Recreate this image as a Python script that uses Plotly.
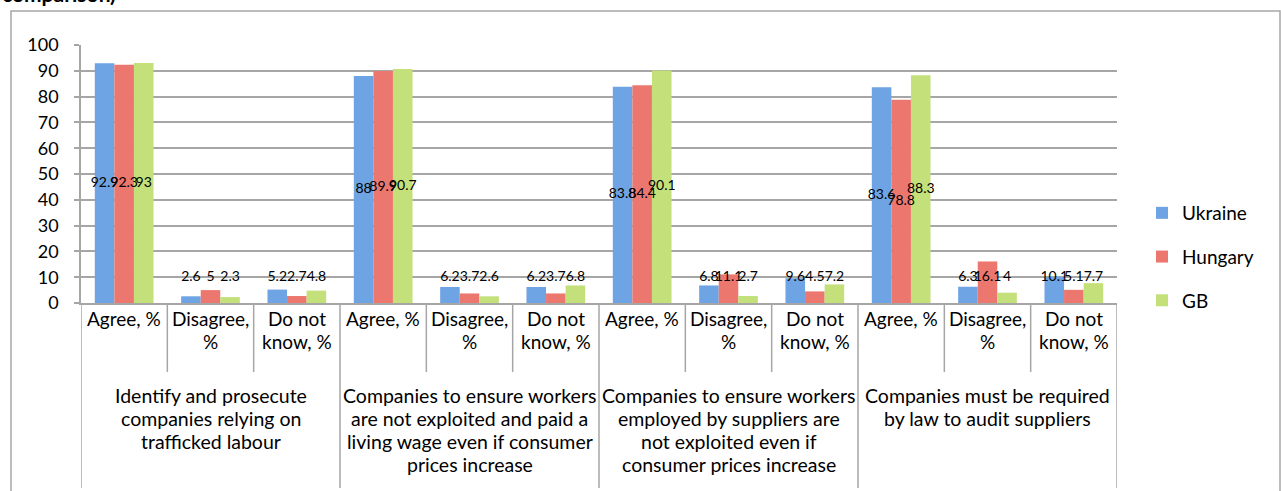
import plotly.graph_objects as go

# Survey answers per statement: Agree / Disagree / Do not know, by country (%)
statements = [
    ["Identify and prosecute", "companies relying on", "trafficked labour"],
    ["Companies to ensure workers", "are not exploited and paid a",
     "living wage even if consumer", "prices increase"],
    ["Companies to ensure workers", "employed by suppliers are",
     "not exploited even if", "consumer prices increase"],
    ["Companies must be required", "by law to audit suppliers"],
]
answers = [["Agree, %"], ["Disagree,", "%"], ["Do not", "know, %"]]

ukraine = [92.9, 2.6, 5.2, 88, 6.2, 6.2, 83.8, 6.8, 9.6, 83.6, 6.3, 10.1]
hungary = [92.3, 5, 2.7, 89.9, 3.7, 3.7, 84.4, 11.1, 4.5, 78.8, 16.1, 5.1]
gb = [93, 2.3, 4.8, 90.7, 2.6, 6.8, 90.1, 2.7, 7.2, 88.3, 4, 7.7]

series_names = ["Ukraine", "Hungary", "GB"]
series_values = [ukraine, hungary, gb]
series_colors = ["#6ea3e4", "#eb776f", "#c3e07b"]

y_ticks = [0, 10, 20, 30, 40, 50, 60, 70, 80, 90, 100]

# figure geometry (pixels)
W, H = 1281, 491
PL, PR, PT, PB = 81, 1117, 45, 303
BARGAP = 0.32
GRID = "#a6a6a6"
FONT = "Lato"
LINE_H = 23


def px_x(p):
    return (p - PL) / (PR - PL)


def px_y(p):
    return (PB - p) / (PB - PT)


n_cat = len(ukraine)
xs = list(range(n_cat))
bar_w = (1 - BARGAP) / len(series_names)

fig = go.Figure()
for k, (name, vals, col) in enumerate(zip(series_names, series_values, series_colors)):
    fig.add_trace(go.Bar(
        x=xs, y=vals, name=name, marker=dict(color=col, line=dict(width=0)),
        legendgroup=name, hoverinfo="y",
    ))

# value labels: centred in tall bars, lifted to a common level for short ones
for k, vals in enumerate(series_values):
    off = (k - 1) * bar_w
    fig.add_trace(go.Scatter(
        x=[x + off for x in xs],
        y=[max(v / 2, 9.7) for v in vals],
        text=[f"{v:g}" for v in vals],
        mode="text", textfont=dict(size=14, color="#000000", family=FONT),
        showlegend=False, hoverinfo="skip", cliponaxis=False,
    ))

shapes = []
# table dividers below the axis
for i in range(n_cat + 1):
    bx = i - 0.5
    full = (i % 3 == 0)
    shapes.append(dict(
        type="line", xref="x", yref="paper", x0=bx, x1=bx,
        y0=0, y1=px_y(488 if full else 372),
        line=dict(color=GRID, width=1.5),
    ))
# outer chart border
shapes.append(dict(
    type="rect", xref="paper", yref="paper",
    x0=px_x(11), x1=px_x(1280), y0=px_y(520), y1=px_y(11),
    line=dict(color=GRID, width=1.5), fillcolor="rgba(0,0,0,0)", layer="below",
))

annotations = []


def add_lines(xc, top_center, lines, size):
    for j, line in enumerate(lines):
        annotations.append(dict(
            x=xc, y=px_y(top_center + j * LINE_H), xref="x", yref="paper",
            text=line, showarrow=False, xanchor="center", yanchor="middle",
            font=dict(size=size, color="#000000", family=FONT),
        ))


for i in range(n_cat):
    add_lines(i, 318, answers[i % 3], 19)
for g, s in enumerate(statements):
    add_lines(3 * g + 1, 395, s, 19.5)

annotations.append(dict(
    x=px_x(0), y=px_y(8.5), xref="paper", yref="paper", text="<b>comparison)</b>",
    showarrow=False, xanchor="left", yanchor="bottom",
    font=dict(size=21, color="#000000", family=FONT),
))

fig.update_layout(
    width=W, height=H,
    margin=dict(l=PL, r=W - PR, t=PT, b=H - PB, pad=0),
    paper_bgcolor="white", plot_bgcolor="white",
    barmode="group", bargap=BARGAP, bargroupgap=0,
    font=dict(family=FONT, size=18, color="#000000"),
    showlegend=True,
    legend=dict(
        x=px_x(1142), y=px_y(194), xanchor="left", yanchor="top",
        font=dict(size=19, color="#000000", family=FONT),
        tracegroupgap=16, itemwidth=30, bgcolor="rgba(0,0,0,0)",
    ),
    xaxis=dict(
        range=[-0.5, n_cat - 0.5], showticklabels=False, showgrid=False,
        zeroline=False, showline=True, linecolor=GRID, linewidth=1.5, ticks="",
        fixedrange=True,
    ),
    yaxis=dict(
        range=[0, 100], tickvals=y_ticks, ticks="outside", ticklen=5,
        tickcolor=GRID, tickwidth=1.5, showline=True, linecolor=GRID, linewidth=1.5,
        showgrid=True, gridcolor=GRID, gridwidth=1.5, zeroline=False,
        tickfont=dict(size=18, color="#000000", family=FONT),
        ticklabelstandoff=12, fixedrange=True,
    ),
    shapes=shapes, annotations=annotations,
)

fig.write_html("out.html")
